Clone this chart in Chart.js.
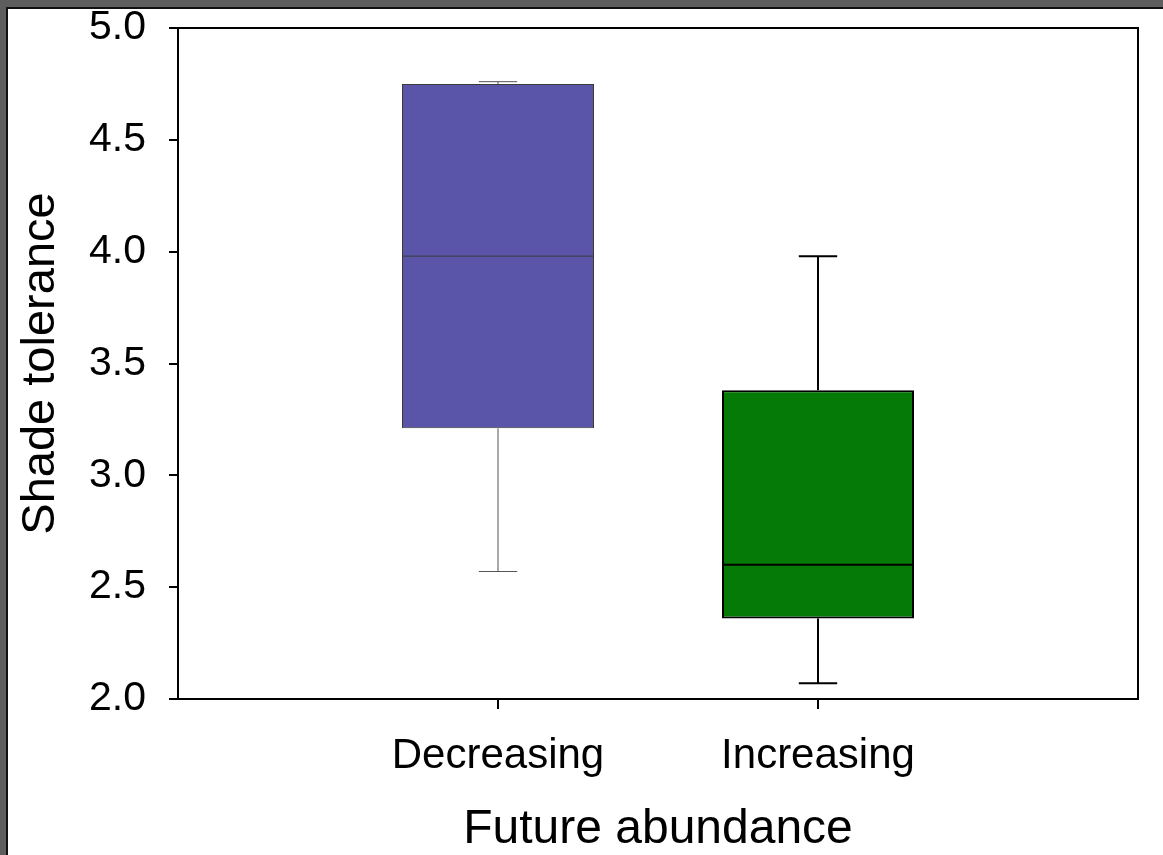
<!DOCTYPE html>
<html>
<head>
<meta charset="utf-8">
<script src="https://cdn.jsdelivr.net/npm/chart.js@4.4.1/dist/chart.umd.min.js"></script>
<style>
  html, body { margin: 0; padding: 0; background: #5e5e5e; width: 1163px; height: 855px; overflow: hidden; }
  #frame {
    position: absolute; left: 6px; top: 7px; width: 1157px; height: 848px;
    background: #fff; border-top: 2px solid #111; border-left: 2px solid #111;
  }
  canvas { display: block; }
</style>
</head>
<body>
<div id="frame"><canvas id="chart" width="1155" height="846"></canvas></div>
<script>
// groups on the x axis
const categories = ["Decreasing", "Increasing"];

// box plot summary per group
const whiskerLow = [2.57, 2.07];
const q1 = [3.21, 2.36];
const median = [3.98, 2.60];
const q3 = [4.75, 3.38];
const whiskerHigh = [4.76, 3.98];

const yTicks = [2.0, 2.5, 3.0, 3.5, 4.0, 4.5, 5.0];

const fillColors = ["#5a55a8", "#067a06"];
const lineColors = ["#3a3a3a", "#000000"];
const whiskerColors = ["#555555", "#000000"];
const lineWidths = [1, 2];

// pad the category axis so the boxes sit at 1/3 and 2/3 of the width
const labels = ["", ...categories, ""];
const boxData = [null, ...categories.map((c, i) => [q1[i], q3[i]]), null];
const pad = (arr, v) => [v, ...arr, v];

const FONT = "'Liberation Sans', Arial, sans-serif";

const boxPlugin = {
  id: "boxExtras",
  afterDatasetsDraw(chart) {
    const ctx = chart.ctx;
    const x = chart.scales.x;
    const y = chart.scales.y;
    const meta = chart.getDatasetMeta(0);
    categories.forEach((c, i) => {
      const bar = meta.data[i + 1];
      const cx = x.getPixelForValue(i + 1);
      const half = bar.width / 2;
      const cap = bar.width * 0.1;
      ctx.save();
      ctx.lineCap = "butt";

      // whiskers
      ctx.strokeStyle = whiskerColors[i];
      ctx.lineWidth = lineWidths[i];
      ctx.beginPath();
      ctx.moveTo(cx, y.getPixelForValue(whiskerHigh[i]));
      ctx.lineTo(cx, y.getPixelForValue(q3[i]));
      ctx.moveTo(cx, y.getPixelForValue(q1[i]));
      ctx.lineTo(cx, y.getPixelForValue(whiskerLow[i]));
      ctx.moveTo(cx - cap, y.getPixelForValue(whiskerHigh[i]));
      ctx.lineTo(cx + cap, y.getPixelForValue(whiskerHigh[i]));
      ctx.moveTo(cx - cap, y.getPixelForValue(whiskerLow[i]));
      ctx.lineTo(cx + cap, y.getPixelForValue(whiskerLow[i]));
      ctx.stroke();

      // median
      ctx.strokeStyle = lineColors[i];
      ctx.beginPath();
      ctx.moveTo(cx - half, y.getPixelForValue(median[i]));
      ctx.lineTo(cx + half, y.getPixelForValue(median[i]));
      ctx.stroke();
      ctx.restore();
    });
  },
  afterDraw(chart) {
    const a = chart.chartArea;
    const ctx = chart.ctx;
    ctx.save();
    ctx.strokeStyle = "#000";
    ctx.lineWidth = 2;
    ctx.strokeRect(a.left, a.top, a.right - a.left, a.bottom - a.top);
    ctx.restore();
  }
};

const noPad = s => { s.paddingTop = 0; s.paddingBottom = 0; s.paddingLeft = 0; s.paddingRight = 0; };

new Chart(document.getElementById("chart"), {
  type: "bar",
  data: {
    labels: labels,
    datasets: [{
      data: boxData,
      backgroundColor: pad(fillColors, "transparent"),
      borderColor: pad(lineColors, "transparent"),
      borderWidth: pad(lineWidths, 0),
      borderSkipped: false,
      barPercentage: 0.6,
      categoryPercentage: 1
    }]
  },
  options: {
    responsive: false,
    animation: false,
    layout: { padding: { top: 19, right: 25, left: 0, bottom: 0 } },
    plugins: {
      legend: { display: false },
      tooltip: { enabled: false }
    },
    scales: {
      x: {
        type: "category",
        offset: false,
        border: { display: false },
        grid: {
          offset: false,
          drawOnChartArea: false,
          tickLength: 10,
          lineWidth: 2,
          color: c => (c.index === 0 || c.index === labels.length - 1) ? "rgba(0,0,0,0)" : "#000"
        },
        ticks: {
          color: "#000",
          font: { family: FONT, size: 42 },
          padding: 22,
          maxRotation: 0,
          autoSkip: false
        },
        title: {
          display: true,
          text: "Future abundance",
          color: "#000",
          font: { family: FONT, size: 48 },
          padding: { top: 0, bottom: -4 }
        },
        afterFit: s => { s.height = 156; noPad(s); }
      },
      y: {
        min: 2,
        max: 5,
        border: { display: false },
        grid: { drawOnChartArea: false, tickLength: 9, lineWidth: 2, color: "#000" },
        afterBuildTicks: s => { s.ticks = yTicks.map(v => ({ value: v })); },
        ticks: {
          color: "#000",
          font: { family: FONT, size: 41 },
          padding: 23,
          callback: v => Number(v).toFixed(1)
        },
        title: {
          display: true,
          text: "Shade tolerance",
          color: "#000",
          font: { family: FONT, size: 47 },
          padding: { top: 5, bottom: 0 }
        },
        afterFit: s => { s.width = 170; noPad(s); }
      }
    }
  },
  plugins: [boxPlugin]
});
</script>
</body>
</html>
